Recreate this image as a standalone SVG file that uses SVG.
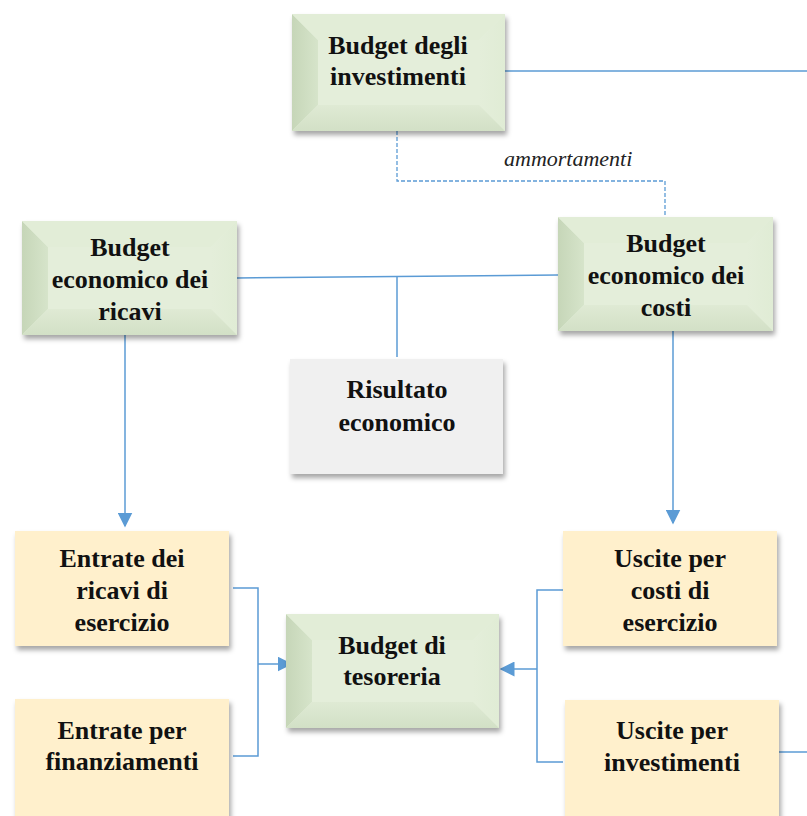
<svg xmlns="http://www.w3.org/2000/svg" width="807" height="816" viewBox="0 0 807 816">
<defs>
<filter id="sh" x="-10%" y="-10%" width="125%" height="130%">
<feDropShadow dx="2" dy="4" stdDeviation="2.5" flood-color="#000" flood-opacity="0.35"/>
</filter>
<marker id="arb" viewBox="0 0 10 10" refX="9" refY="5" markerWidth="15" markerHeight="15" orient="auto" markerUnits="userSpaceOnUse">
<path d="M0,0 L10,5 L0,10 z" fill="#5B9BD5"/>
</marker>
<linearGradient id="gl" x1="0" y1="0" x2="1" y2="0"><stop offset="0" stop-color="#C6D6B8"/><stop offset="1" stop-color="#D6E4CA"/></linearGradient>
<linearGradient id="gr" x1="1" y1="0" x2="0" y2="0"><stop offset="0" stop-color="#E0ECD5"/><stop offset="1" stop-color="#E4EEDA"/></linearGradient>
<linearGradient id="gb" x1="0" y1="1" x2="0" y2="0"><stop offset="0" stop-color="#D2E0C6"/><stop offset="1" stop-color="#DFEAD4"/></linearGradient>
</defs>
<style>
.t{font-family:"Liberation Serif","Times New Roman",serif;font-weight:bold;font-size:26px;fill:#111;text-anchor:middle}
.i{font-family:"Liberation Serif","Times New Roman",serif;font-style:italic;font-size:22px;fill:#222}
.c{fill:none;stroke:#5B9BD5;stroke-width:1.5}
.d{fill:none;stroke:#5B9BD5;stroke-width:1.3;stroke-dasharray:4 2}
.y{fill:#FFF0CC}
.g{fill:#F0F0F0}
.bc{fill:#E4EEDA}
.bl{fill:url(#gl)}
.bt{fill:#E2EDD7}
.br{fill:url(#gr)}
.bb{fill:url(#gb)}
</style>
<g id="connectors">
<path class="c" d="M505,71 H807"/>
<path class="d" d="M397,131 V181 H665 V218"/>
<path class="c" d="M237,278 L558,275"/>
<path class="c" d="M397,277 V357"/>
<path class="c" d="M125,335 V526" marker-end="url(#arb)"/>
<path class="c" d="M673,331 V523" marker-end="url(#arb)"/>
<path class="c" d="M233,588 H258 V756 H233"/>
<path class="c" d="M258,664 H291" marker-end="url(#arb)"/>
<path class="c" d="M563,590 H537 V762 H563"/>
<path class="c" d="M537,669 H501" marker-end="url(#arb)"/>
<path class="c" d="M779,752 H807"/>
<text class="i" x="504" y="166">ammortamenti</text>
</g>
<g id="n-investimenti">
<g filter="url(#sh)">
<rect x="292" y="14" width="213" height="117" class="bc"/>
</g>
<polygon points="292,14 318,40 318,105 292,131" class="bl"/>
<polygon points="292,14 505,14 479,40 318,40" class="bt"/>
<polygon points="505,14 505,131 479,105 479,40" class="br"/>
<polygon points="292,131 318,105 479,105 505,131" class="bb"/>
<text class="t" x="398" y="54">Budget degli</text>
<text class="t" x="398" y="85">investimenti</text>
</g>
<g id="n-ricavi">
<g filter="url(#sh)">
<rect x="22" y="221" width="215" height="114" class="bc"/>
</g>
<polygon points="22,221 48,247 48,309 22,335" class="bl"/>
<polygon points="22,221 237,221 211,247 48,247" class="bt"/>
<polygon points="237,221 237,335 211,309 211,247" class="br"/>
<polygon points="22,335 48,309 211,309 237,335" class="bb"/>
<text class="t" x="130" y="256">Budget</text>
<text class="t" x="130" y="288">economico dei</text>
<text class="t" x="130" y="320">ricavi</text>
</g>
<g id="n-costi">
<g filter="url(#sh)">
<rect x="558" y="217" width="215" height="114" class="bc"/>
</g>
<polygon points="558,217 584,243 584,305 558,331" class="bl"/>
<polygon points="558,217 773,217 747,243 584,243" class="bt"/>
<polygon points="773,217 773,331 747,305 747,243" class="br"/>
<polygon points="558,331 584,305 747,305 773,331" class="bb"/>
<text class="t" x="666" y="252">Budget</text>
<text class="t" x="666" y="284">economico dei</text>
<text class="t" x="666" y="316">costi</text>
</g>
<g id="n-risultato">
<rect x="290" y="359" width="213" height="115" class="g" filter="url(#sh)"/>
<text class="t" x="397" y="398">Risultato</text>
<text class="t" x="397" y="431">economico</text>
</g>
<g id="n-entrate-ricavi">
<rect x="15" y="531" width="214" height="115" class="y" filter="url(#sh)"/>
<text class="t" x="122" y="567">Entrate dei</text>
<text class="t" x="122" y="599">ricavi di</text>
<text class="t" x="122" y="631">esercizio</text>
</g>
<g id="n-entrate-fin">
<rect x="15" y="699" width="214" height="125" class="y" filter="url(#sh)"/>
<text class="t" x="122" y="739">Entrate per</text>
<text class="t" x="122" y="770">finanziamenti</text>
</g>
<g id="n-tesoreria">
<g filter="url(#sh)">
<rect x="286" y="614" width="213" height="114" class="bc"/>
</g>
<polygon points="286,614 312,640 312,702 286,728" class="bl"/>
<polygon points="286,614 499,614 473,640 312,640" class="bt"/>
<polygon points="499,614 499,728 473,702 473,640" class="br"/>
<polygon points="286,728 312,702 473,702 499,728" class="bb"/>
<text class="t" x="392" y="654">Budget di</text>
<text class="t" x="392" y="685">tesoreria</text>
</g>
<g id="n-uscite-costi">
<rect x="563" y="531" width="214" height="115" class="y" filter="url(#sh)"/>
<text class="t" x="670" y="567">Uscite per</text>
<text class="t" x="670" y="599">costi di</text>
<text class="t" x="670" y="631">esercizio</text>
</g>
<g id="n-uscite-inv">
<rect x="565" y="700" width="214" height="125" class="y" filter="url(#sh)"/>
<text class="t" x="672" y="739">Uscite per</text>
<text class="t" x="672" y="771">investimenti</text>
</g>
</svg>
